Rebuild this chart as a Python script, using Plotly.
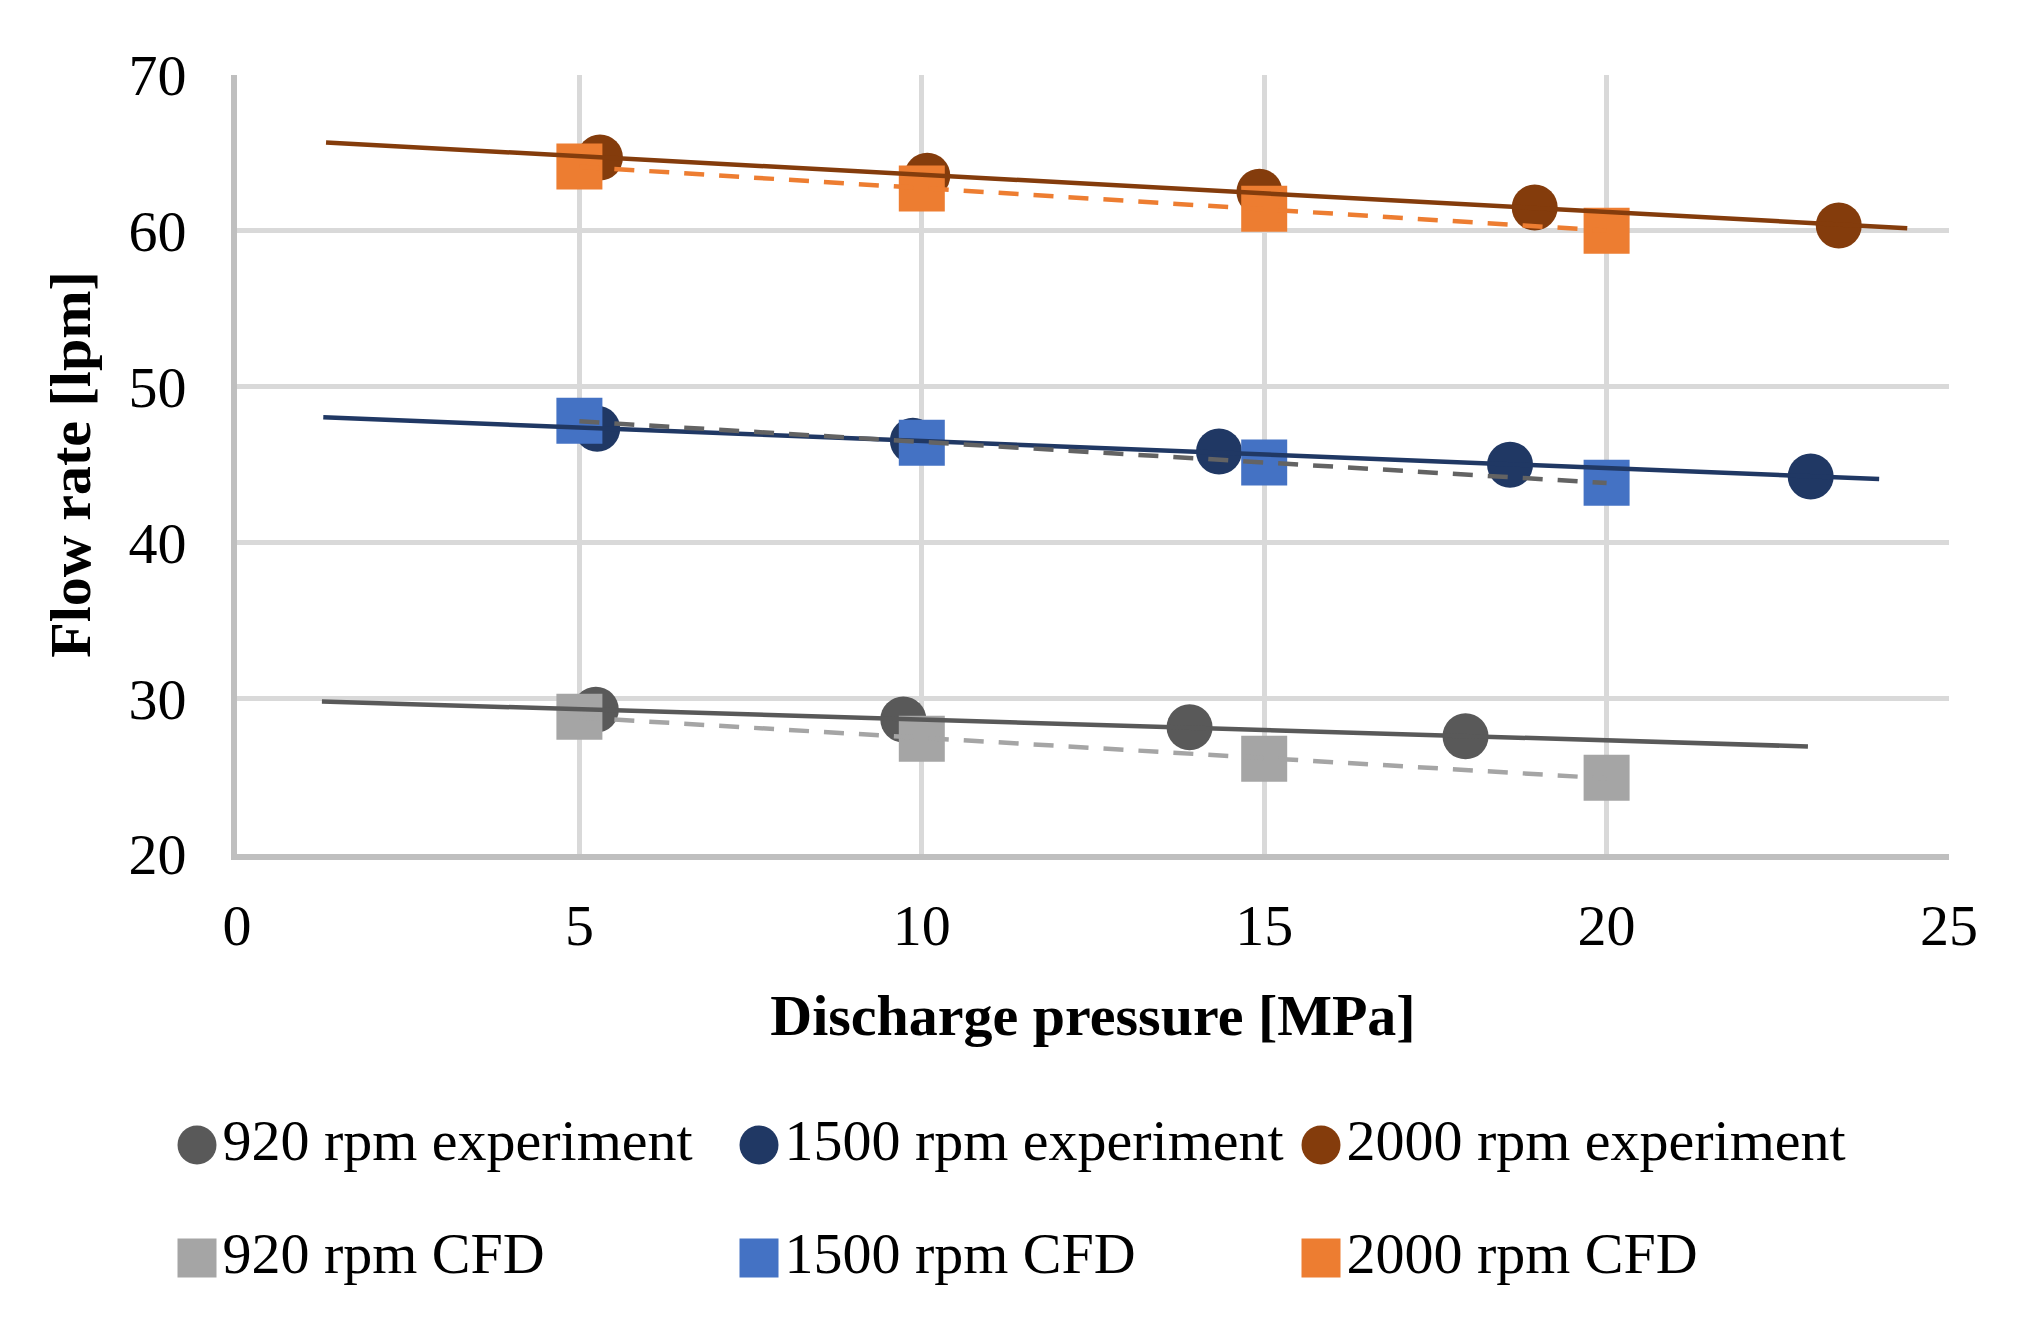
import numpy as np
import plotly.graph_objects as go

# ---------------- data ----------------
cfd_pressure = [5, 10, 15, 20]

exp_920_x = [5.24, 9.73, 13.91, 17.94]
exp_920_y = [29.26, 28.64, 28.14, 27.55]
exp_1500_x = [5.26, 9.87, 14.34, 18.59, 22.98]
exp_1500_y = [47.30, 46.53, 45.83, 44.99, 44.23]
exp_2000_x = [5.30, 10.08, 14.93, 18.95, 23.39]
exp_2000_y = [64.70, 63.54, 62.50, 61.50, 60.34]

cfd_920_y = [28.81, 27.40, 26.12, 24.90]
cfd_1500_y = [47.81, 46.39, 45.13, 43.83]
cfd_2000_y = [64.12, 62.71, 61.41, 60.00]

exp_names = ["920 rpm experiment", "1500 rpm experiment", "2000 rpm experiment"]
cfd_names = ["920 rpm CFD", "1500 rpm CFD", "2000 rpm CFD"]

# linear trendline forecast (backward / forward) for the experiment series
exp_trend_backward = [4, 4, 4]
exp_trend_forward = [5, 1, 1]

x_ticks = [0, 5, 10, 15, 20, 25]
y_ticks = [20, 30, 40, 50, 60, 70]

x_title = "Discharge pressure [MPa]"
y_title = "Flow rate [lpm]"

# ---------------- styles ----------------
exp_colors = ["#595959", "#203864", "#843C0C"]
cfd_colors = ["#A5A5A5", "#4472C4", "#ED7D31"]
cfd_trend_colors = ["#A5A5A5", "#636363", "#ED7D31"]
FONT = "Liberation Serif, Times New Roman, serif"
FS = 58
W, H = 2025, 1323
PL, PR, PT, PB = 237, 1949, 75, 854   # plot area in pixels

exp_x = [exp_920_x, exp_1500_x, exp_2000_x]
exp_y = [exp_920_y, exp_1500_y, exp_2000_y]
cfd_y = [cfd_920_y, cfd_1500_y, cfd_2000_y]

fig = go.Figure()

# experiment markers
for xs, ys, c, n in zip(exp_x, exp_y, exp_colors, exp_names):
    fig.add_trace(go.Scatter(x=xs, y=ys, mode="markers", name=n,
                             marker=dict(symbol="circle", size=46, color=c, line=dict(width=0)),
                             showlegend=False))
# CFD markers
for ys, c, n in zip(cfd_y, cfd_colors, cfd_names):
    fig.add_trace(go.Scatter(x=cfd_pressure, y=ys, mode="markers", name=n,
                             marker=dict(symbol="square", size=46, color=c, line=dict(width=0)),
                             showlegend=False))

# experiment trendlines (linear fits)
for xs, ys, c, b, f in zip(exp_x, exp_y, exp_colors, exp_trend_backward, exp_trend_forward):
    k, m = np.polyfit(xs, ys, 1)
    tx = np.array([min(xs) - b, max(xs) + f])
    fig.add_trace(go.Scatter(x=tx, y=k * tx + m, mode="lines", showlegend=False,
                             hoverinfo="skip", line=dict(color=c, width=4.5)))
# CFD trendlines (linear fits)
for ys, c in zip(cfd_y, cfd_trend_colors):
    k, m = np.polyfit(cfd_pressure, ys, 1)
    tx = np.array([min(cfd_pressure), max(cfd_pressure)])
    fig.add_trace(go.Scatter(x=tx, y=k * tx + m, mode="lines", showlegend=False,
                             hoverinfo="skip", line=dict(color=c, width=4.5, dash="20px,15px")))

# custom legend (large symbols), laid out on an auxiliary hidden axis pair
legend_cols = [0, 1, 2]
fig.add_trace(go.Scatter(x=legend_cols, y=[0, 0, 0], xaxis="x2", yaxis="y2",
                         mode="markers+text", text=exp_names, textposition="middle right",
                         textfont=dict(family=FONT, size=FS, color="black"),
                         marker=dict(symbol="circle", size=39, color=exp_colors),
                         cliponaxis=False, showlegend=False, hoverinfo="skip"))
fig.add_trace(go.Scatter(x=legend_cols, y=[1, 1, 1], xaxis="x2", yaxis="y2",
                         mode="markers+text", text=cfd_names, textposition="middle right",
                         textfont=dict(family=FONT, size=FS, color="black"),
                         marker=dict(symbol="square", size=39, color=cfd_colors),
                         cliponaxis=False, showlegend=False, hoverinfo="skip"))

# legend grid in pixels: first column centre, column step, first row centre, row step
LX0, LDX, LY0, LDY = 197, 562, 1145, 113

axis_common = dict(
    showgrid=True, gridcolor="#D9D9D9", gridwidth=5,
    showline=True, linecolor="#BFBFBF", linewidth=6,
    zeroline=False, ticks="", automargin=False,
    tickfont=dict(family=FONT, size=FS, color="black"),
)

fig.update_layout(
    width=W, height=H, autosize=False,
    margin=dict(l=0, r=0, t=0, b=0, pad=0),
    paper_bgcolor="white", plot_bgcolor="rgba(0,0,0,0)",
    showlegend=False,
    xaxis=dict(domain=[PL / W, PR / W], range=[0, 25], tickvals=x_ticks,
               ticklabelstandoff=15,
               title=dict(text=x_title, standoff=40,
                          font=dict(family=FONT, size=FS, color="black", weight="bold")),
               **axis_common),
    yaxis=dict(domain=[(H - PB) / H, (H - PT) / H], range=[20, 70], tickvals=y_ticks,
               ticklabelstandoff=33,
               title=dict(text=y_title, standoff=21,
                          font=dict(family=FONT, size=FS, color="black", weight="bold")),
               **axis_common),
    xaxis2=dict(domain=[0, 1], anchor="y2", visible=False, fixedrange=True, automargin=False,
                range=[-LX0 / LDX, (W - LX0) / LDX]),
    yaxis2=dict(domain=[0, 1], anchor="x2", visible=False, fixedrange=True, automargin=False,
                range=[(H - LY0) / LDY, -LY0 / LDY]),
)

fig.write_html("out.html", config={"displayModeBar": False},
               post_script="document.body.style.margin='0';")
